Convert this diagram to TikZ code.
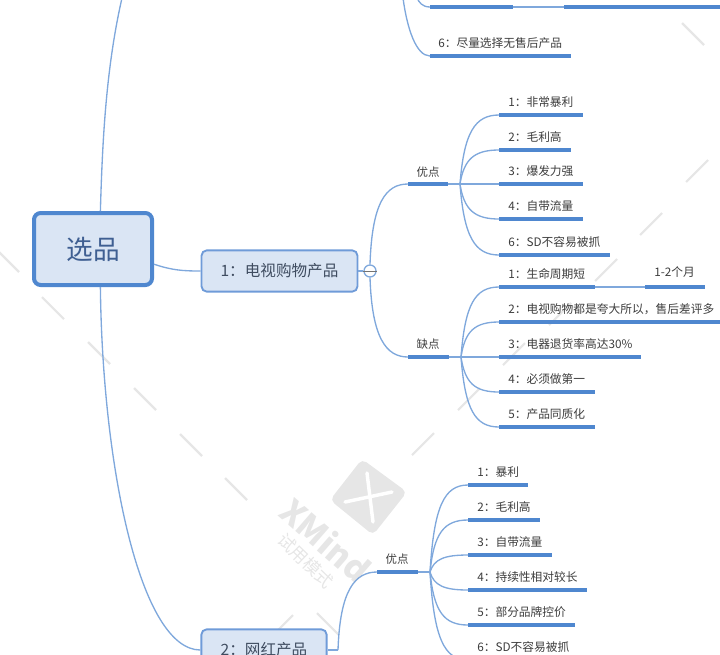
\documentclass[tikz,border=0pt]{standalone}
\usepackage{fontspec}
\setmainfont{Noto Sans CJK SC}
\definecolor{boxfill}{HTML}{DAE5F4}
\definecolor{boxline}{HTML}{6F9BD8}
\definecolor{rootline}{HTML}{4F87CF}
\definecolor{roottext}{HTML}{3F5F92}
\definecolor{topictext}{HTML}{3F4C60}
\definecolor{linkline}{HTML}{7FA8DC}
\definecolor{barline}{HTML}{4F87CF}
\definecolor{leaftext}{HTML}{3C3C3C}
\definecolor{marktext}{HTML}{E6E6E6}
\tikzset{
	rootbox/.style={draw=rootline,line width=3pt,fill=boxfill,rounded corners=5pt,minimum width=88.5pt,minimum height=54pt,inner sep=0pt,text=roottext,font=\fontsize{20}{20}\selectfont},
	topicbox/.style={draw=boxline,line width=1.4pt,fill=boxfill,rounded corners=4pt,minimum height=31pt,inner sep=0pt,text=topictext,font=\fontsize{11.7}{12}\selectfont},
	leaftxt/.style={anchor=base west,inner sep=0pt,text=leaftext,font=\fontsize{8.8}{9}\selectfont},
	headtxt/.style={anchor=center,inner sep=0pt,text=leaftext,font=\fontsize{8.6}{9}\selectfont},
	link/.style={draw=linkline,line width=1pt},
	bar/.style={draw=barline,line width=2.6pt},
	markdash/.style={draw=marktext,line width=1.6pt},
}
% #1 prefix, #2 fork, #3 fork y, #4 leaf x, #5 list of number/y/end/text
\newcommand{\leafset}[5]{
	\foreach \n/\y/\xe/\txt in {#5} {
		\pgfmathsetmacro{\dy}{\y-#3}
		\coordinate (#1\n s) at (#4,\y);
		\coordinate (#1\n e) at (\xe,\y);
		\node[leaftxt] (#1\n) at (#4+9,\y-9) {\txt};
		\draw[link] (#2) .. controls +(4,0.75*\dy) and +(-24,0) .. (#1\n s);
		\draw[bar] (#1\n s) -- (#1\n e);
	}
}
\begin{document}
\begin{tikzpicture}[x=0.75pt,y=-0.75pt]
	\useasboundingbox (0,0) rectangle (720,654);
	\clip (0,0) rectangle (720,654);
	% watermark
	\foreach \xa/\ya in {-3/250,42/297,88/342,134/388,180/434,225/478,317/613,682/23} {
		\draw[markdash] (\xa,\ya) -- ++(22,22);
	}
	\foreach \xa/\ya in {271/637,412/455,458/410,503/365,549/325,595/281,640/235,686/182} {
		\draw[markdash] (\xa,\ya) -- ++(22,-22);
	}
	\fill[marktext,rounded corners=4pt] (362,459) -- (407,492) -- (373,535) -- (330,500) -- cycle;
	\draw[white,line width=2.6pt,line cap=round] (367,473) -- (373,522);
	\draw[white,line width=2.6pt,line cap=round] (345,502) -- (392,492);
	\node[rotate=-41,text=marktext,font=\fontsize{25}{25}\selectfont\bfseries] (markname) at (326,540) {XMind};
	\node[rotate=-44,text=marktext,font=\fontsize{13}{13}\selectfont] (markmode) at (306,561) {试用模式};
	% main topics
	\node[rootbox] (root) at (93,249) {选品};
	\node[topicbox,minimum width=117pt] (tv) at (279.5,271) {1：电视购物产品};
	\node[topicbox,minimum width=94pt] (red) at (264,650) {2：网红产品};
	\coordinate (up) at (122,-2);
	\draw[link] (root.79) .. controls +(2,-70) and +(-16,70) .. (up);
	\draw[link] (root.-14) .. controls +(18,6) and +(-18,0) .. (tv.west);
	\draw[link] (root.-79) .. controls +(2,180) and +(-60,0) .. (red.west);
	% top rows
	\coordinate (topa) at (403,-2);
	\coordinate (topb) at (417,-2);
	\coordinate (fives) at (430,7);
	\coordinate (fivee) at (513,7);
	\coordinate (morea) at (564,7);
	\coordinate (moreb) at (722,7);
	\coordinate (sixs) at (430,56);
	\coordinate (sixe) at (571,56);
	\node[leaftxt] (six) at (438,47) {6：尽量选择无售后产品};
	\draw[link] (topb) .. controls +(2,4) and +(-8,0) .. (fives);
	\draw[link] (topa) .. controls +(4,30) and +(-14,0) .. (sixs);
	\draw[link] (fivee) -- (morea);
	\draw[bar] (fives) -- (fivee);
	\draw[bar] (morea) -- (moreb);
	\draw[bar] (sixs) -- (sixe);
	% topic 1
	\node[circle,draw=linkline,line width=1pt,fill=white,minimum size=9pt,inner sep=0pt] (fold) at (370,271) {};
	\draw[link] (tv.east) -- (fold.west);
	\draw[draw=black!55,line width=0.6pt] (fold.180) -- (fold.0);
	\coordinate (goods) at (408,184);
	\coordinate (goode) at (448,184);
	\coordinate (goodf) at (460,184);
	\coordinate (bads) at (408,357);
	\coordinate (bade) at (449,357);
	\coordinate (badf) at (461,357);
	\node[headtxt] (good) at (428,172) {优点};
	\node[headtxt] (bad) at (428,344) {缺点};
	\draw[link] (fold.north) .. controls +(2,-62) and +(-22,0) .. (goods);
	\draw[link] (fold.south) .. controls +(2,60) and +(-22,0) .. (bads);
	\draw[link] (goode) -- (goodf);
	\draw[link] (bade) -- (badf);
	\draw[bar] (goods) -- (goode);
	\draw[bar] (bads) -- (bade);
	\leafset{g}{goodf}{184}{499}{1/115/583/1：非常暴利,2/150/571/2：毛利高,3/184/583/3：爆发力强,4/219/583/4：自带流量,6/255/610/6：SD不容易被抓}
	\leafset{b}{badf}{357}{499}{1/287/595/1：生命周期短,2/322/722/2：电视购物都是夸大所以，售后差评多,3/357/641/3：电器退货率高达30\%,4/392/595/4：必须做第一,5/427/595/5：产品同质化}
	\coordinate (months) at (645,287);
	\coordinate (monthe) at (705,287);
	\node[leaftxt] (month) at (654,276) {1-2个月};
	\draw[link] (b1e) -- (months);
	\draw[bar] (months) -- (monthe);
	% topic 2
	\coordinate (redf) at (338,650);
	\coordinate (reds) at (377,572);
	\coordinate (rede) at (418,572);
	\coordinate (redg) at (430,572);
	\node[headtxt] (redgood) at (397,559) {优点};
	\draw[link] (red.east) -- (redf);
	\draw[link] (redf) .. controls +(2,-60) and +(-22,0) .. (reds);
	\draw[link] (rede) -- (redg);
	\draw[bar] (reds) -- (rede);
	\leafset{r}{redg}{572}{468}{1/485/528/1：暴利,2/520/540/2：毛利高,3/555/552/3：自带流量,4/590/587/4：持续性相对较长,5/625/575/5：部分品牌控价,6/660/595/6：SD不容易被抓}
\end{tikzpicture}
\end{document}
